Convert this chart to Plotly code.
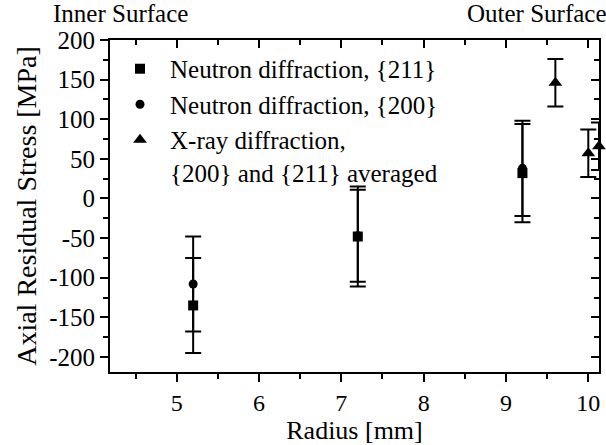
import plotly.graph_objects as go

# Data
n211_x = [5.2, 7.2, 9.2]
n211_y = [-135, -48, 32]
n211_err = [60, 63, 62]

n200_x = [5.2, 7.2, 9.2]
n200_y = [-108, -47, 38]
n200_err = [60, 58, 60]

xray_x = [9.6, 10.0, 10.13]
xray_y = [146, 57, 66]
xray_err = [30, 30, 30]

y_tickvals = [200, 150, 100, 50, 0, -50, -100, -150, -200]
y_ticktext = ["200", "150", "100", "50", "0", "-50", "-100", "-150", "-200"]

FONT = "Liberation Serif"
fig = go.Figure()

def add(x, y, e, sym, size, name):
    fig.add_trace(go.Scatter(
        x=x, y=y, mode="markers", name=name, legendgroup=name,
        marker=dict(symbol=sym, size=size, color="black"),
        error_y=dict(type="data", array=e, visible=True, color="black", thickness=2, width=8),
        cliponaxis=False,
    ))

add(n211_x, n211_y, n211_err, "square", 10, "Neutron diffraction, {211}")
add(n200_x, n200_y, n200_err, "circle", 9, "Neutron diffraction, {200}")
add(xray_x, xray_y, xray_err, "triangle-up", 12, "X-ray diffraction,<br>{200} and {211} averaged")

# overlay axes for inside mirrored ticks
fig.add_trace(go.Scatter(x=[None], y=[None], xaxis="x2", yaxis="y2", showlegend=False))

xr = [4.19, 10.13]
yr = [-219, 200]
common = dict(showgrid=False, zeroline=False, showline=True, linecolor="black", linewidth=2,
              tickcolor="black", tickwidth=2)
fig.update_layout(
    width=606, height=445,
    margin=dict(l=110, r=6, t=40, b=70),
    paper_bgcolor="white", plot_bgcolor="white",
    font=dict(family=FONT, color="black", size=25),
    showlegend=True,
    legend=dict(x=0.0, y=0.982, xanchor="left", yanchor="top", bgcolor="rgba(0,0,0,0)",
                font=dict(family=FONT, size=25, color="black"), itemwidth=50,
                tracegroupgap=5, valign="top", traceorder="normal"),
    xaxis=dict(range=xr, ticks="outside", ticklen=8, dtick=1, tick0=5,
               minor=dict(ticks="outside", ticklen=5, dtick=0.5, tickcolor="black", tickwidth=2),
               title=dict(text="Radius [mm]", font=dict(size=26), standoff=5),
               tickfont=dict(size=24), **common),
    yaxis=dict(range=yr, ticks="outside", ticklen=8, tickmode="array",
               tickvals=y_tickvals, ticktext=y_ticktext,
               minor=dict(ticks="outside", ticklen=5, dtick=25, tick0=0, tickcolor="black", tickwidth=2),
               title=dict(text="Axial Residual Stress [MPa]", font=dict(size=28), standoff=4),
               tickfont=dict(size=25), **common),
    xaxis2=dict(range=xr, overlaying="x", side="top", anchor="y2", ticks="inside", ticklen=8,
                dtick=1, tick0=5, showticklabels=False,
                minor=dict(ticks="inside", ticklen=5, dtick=0.5, tickcolor="black", tickwidth=2),
                **common),
    yaxis2=dict(range=yr, overlaying="y", side="right", anchor="x2", ticks="inside", ticklen=8,
                dtick=50, tick0=0, showticklabels=False,
                minor=dict(ticks="inside", ticklen=5, dtick=25, tickcolor="black", tickwidth=2),
                **common),
    annotations=[
        dict(text="Inner Surface", xref="paper", yref="paper", x=-0.12, y=1.0, yshift=11,
             xanchor="left", yanchor="bottom", showarrow=False, font=dict(size=25)),
        dict(text="Outer Surface", xref="paper", yref="paper", x=1.02, y=1.0, yshift=11,
             xanchor="right", yanchor="bottom", showarrow=False, font=dict(size=25)),
    ],
)
fig.write_html("out.html")
